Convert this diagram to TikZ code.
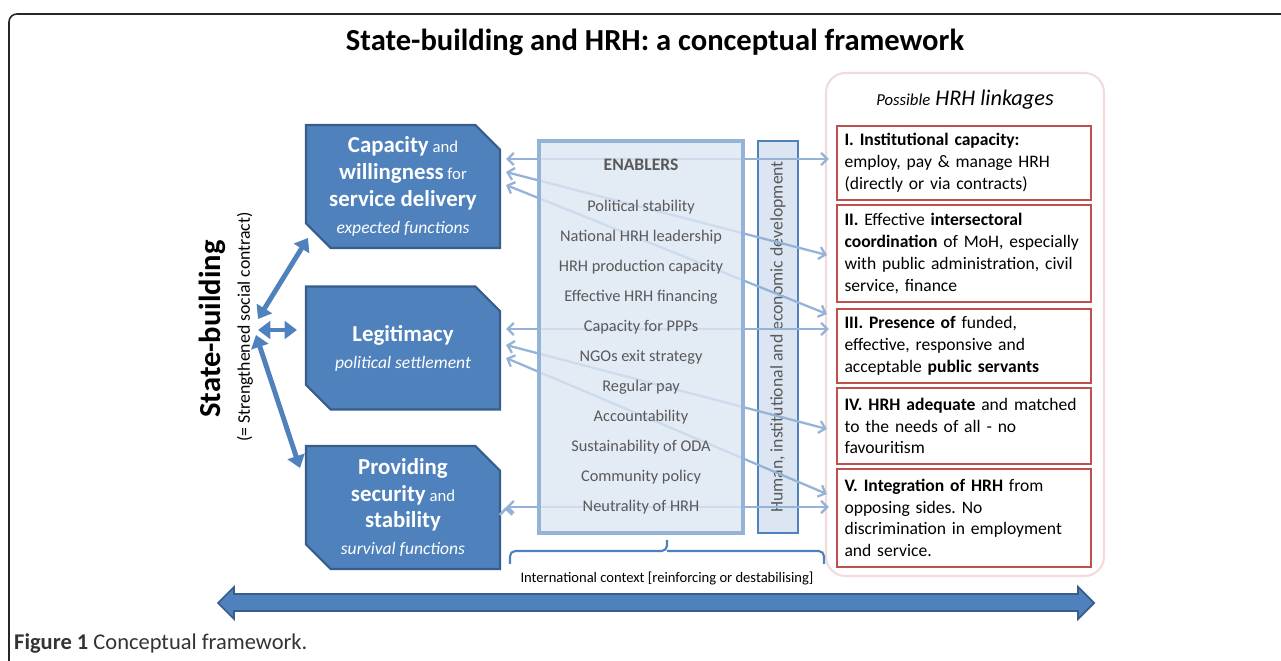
\documentclass[tikz,border=0pt]{standalone}
\usepackage{fontspec}
\setmainfont{Carlito}
\usetikzlibrary{arrows.meta,shapes.misc,positioning,calc}

\definecolor{sbblue}{HTML}{4F81BD}
\definecolor{sbdark}{HTML}{385D8A}
\definecolor{sblink}{HTML}{95B3D7}
\definecolor{sbpale}{HTML}{DCE6F2}
\definecolor{sbgray}{HTML}{595959}
\definecolor{sbred}{HTML}{C0504D}
\definecolor{sbpink}{HTML}{F2DCDB}

\newcommand{\hb}{\fontsize{13}{15.3}\selectfont\bfseries}
\frenchspacing
\hyphenpenalty=10000

\begin{document}
\begin{tikzpicture}[x=0.02cm, y=-0.02cm, >={Straight Barb[length=3.5pt,width=7pt]}, align=center]

    \tikzstyle{pillar}=[chamfered rectangle, chamfered rectangle corners={north east,south west}, chamfered rectangle xsep=0.38cm, draw=sbdark, line width=1.2pt, fill=sbblue, text=white, minimum width=3.88cm, minimum height=2.46cm, inner sep=0pt, font=\fontsize{9.5}{15.3}\selectfont]
    \tikzstyle{linkage}=[draw=sbred, line width=1.3pt, fill=white, text width=4.78cm, inner xsep=4pt, align=left, minimum width=5.08cm, font=\fontsize{10}{12.4}\selectfont]
    \tikzstyle{link}=[<->, draw=sblink, line width=1.3pt]
    \tikzstyle{pull}=[{Triangle[width=10pt,length=7pt]}-{Triangle[width=10pt,length=7pt]}, draw=sbblue, line width=2.8pt]

    \useasboundingbox (0,0) rectangle (1281,661);
    \draw[black!85, line width=0.9pt, rounded corners=4.5pt] (9,14) rectangle (1300,690);

    \node[font=\fontsize{17.4}{20}\selectfont\bfseries] (title) at (655,42) {State-building and HRH: a conceptual framework};

    % state-building side
    \node[rotate=90, font=\fontsize{17.4}{20}\selectfont\bfseries] (sb) at (212,329) {State-building};
    \node[rotate=90, font=\fontsize{10.1}{12}\selectfont] (contract) at (245,327) {(= Strengthened social contract)};

    \node[pillar] (cap)    at (403,186.5) {{\hb Capacity} and\\ {\hb willingness} for\\ {\hb service delivery}\\ \textit{\fontsize{10}{14}\selectfont expected functions}};
    \node[pillar] (legit)  at (403,348)   {{\hb Legitimacy}\\ \textit{\fontsize{10}{14}\selectfont political settlement}};
    \node[pillar] (sec)    at (403,507.5) {{\hb Providing}\\ {\hb security} and\\ {\hb stability}\\ \textit{\fontsize{10}{14}\selectfont survival functions}};

    % linkages
    \node[draw=sbpink, line width=1.2pt, rounded corners=11pt, minimum width=5.56cm, minimum height=10.06cm] (linkages) at (965,324.5) {};
    \node[font=\itshape\fontsize{12.7}{15}\selectfont] (ltitle) at (965,100) {{\fontsize{9.5}{12}\selectfont Possible} HRH linkages};

    \node[linkage, minimum height=1.48cm] (I)   at (964,163)   {\textbf{I. Institutional capacity:}\\ employ, pay \& manage HRH\\ (directly or via contracts)};
    \node[linkage, minimum height=1.94cm] (II)  at (964,253.5) {\textbf{II.} Effective \textbf{intersectoral}\\ \textbf{coordination} of MoH, especially\\ with public administration, civil\\ service, finance};
    \node[linkage, minimum height=1.48cm] (III) at (964,346)   {\textbf{III. Presence of} funded,\\ effective, responsive and\\ acceptable \textbf{public servants}};
    \node[linkage, minimum height=1.52cm] (IV)  at (964,426)   {\textbf{IV. HRH adequate} and matched\\ to the needs of all - no\\ favouritism};
    \node[linkage, minimum height=1.96cm] (V)   at (964,518)   {\textbf{V. Integration of HRH} from\\ opposing sides. No\\ discrimination in employment\\ and service.};

    \node[draw=sbblue, line width=0.8pt, fill=sbpale, minimum width=0.8cm, minimum height=7.84cm] (devt) at (778,337) {};
    \node[rotate=90, text=sbgray, font=\fontsize{10.1}{12}\selectfont] (devtext) at (778,337) {Human, institutional and economic development};

    \path[link] ($(cap.east)+(5,-27.5)$)   edge ($(I.west)+(-7,-4)$)
                ($(cap.east)+(5,-14.5)$)   edge ($(II.west)+(-9,1.5)$)
                ($(cap.east)+(5,-1.5)$)    edge ($(III.west)+(-9,-32)$)
                ($(legit.east)+(5,-19)$)   edge ($(III.west)+(-7,-17)$)
                ($(legit.east)+(5,-3)$)    edge ($(IV.west)+(-9,3)$)
                ($(legit.east)+(5,10)$)    edge ($(V.west)+(-9,-24)$)
                ($(sec.east)+(5,-0.5)$)    edge ($(V.west)+(-7,-11)$);

    % enablers
    \node[draw=sblink, line width=1.8pt, fill=sbpale, fill opacity=0.8, minimum width=4.08cm, minimum height=7.84cm] (enab) at (641,337) {};
    \node[text=sbgray, font=\fontsize{10}{12}\selectfont\bfseries] (enabtitle) at (641,165) {ENABLERS};
    \node[text=sbgray, font=\fontsize{9.3}{17.07}\selectfont] (items) at (641,357.5) {Political stability\\ National HRH leadership\\ HRH production capacity\\ Effective HRH financing\\ Capacity for PPPs\\ NGOs exit strategy\\ Regular pay\\ Accountability\\ Sustainability of ODA\\ Community policy\\ Neutrality of HRH};

    \coordinate (hub) at (256,327);
    \draw[pull] ($(hub)+(2,-8)$) -- ($(cap.west)+(3,51.5)$);
    \draw[pull] ($(hub)+(2,3)$)  -- ($(legit.west)+(-8,-18)$);
    \draw[pull] ($(hub)+(0,8)$)  -- ($(sec.west)+(-5,-39.5)$);

    % international context
    \draw[sbblue, line width=1.2pt, rounded corners=3pt] (510,564) |- (667,551) -- (667,540);
    \draw[sbblue, line width=1.2pt, rounded corners=3pt] (667,551) -| (824,564);
    \node[font=\fontsize{8.3}{10}\selectfont] (intl) at (667,578) {International context [reinforcing or destabilising]};

    \draw[draw=sbdark, fill=sbblue, line width=1pt] (218,603) -- (234,587) -- (234,594) -- (1078,594) -- (1078,587) -- (1094,603) -- (1078,619) -- (1078,611) -- (234,611) -- (234,619) -- cycle;

    \node[anchor=west, text=black!80, font=\fontsize{12.8}{15}\selectfont] (caption) at (8,644) {\textbf{Figure 1} Conceptual framework.};
\end{tikzpicture}
\end{document}
